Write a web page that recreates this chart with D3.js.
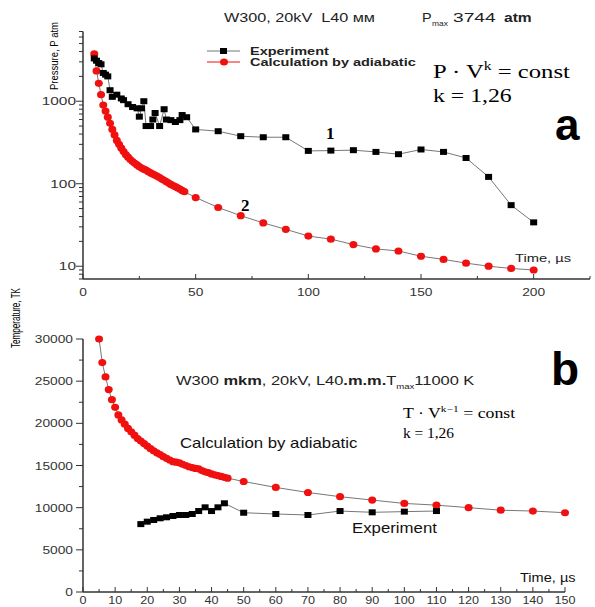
<!DOCTYPE html>
<html>
<head>
<meta charset="utf-8">
<script src="https://cdn.jsdelivr.net/npm/d3@7"></script>
<style>
  body { margin: 0; background: #fff; }
</style>
</head>
<body>
<svg id="chart" width="595" height="607" font-family="'Liberation Sans', Arial, sans-serif"></svg>
<script>

// Panel a - pressure
const expTimeA = [5, 6, 7, 8, 9, 10, 11, 12, 13, 15, 17, 18, 20, 22, 24, 25, 26, 27, 28, 30, 31, 32, 34, 36, 37, 39, 41, 43, 44, 46,
	50, 60, 70, 80, 90, 100, 110, 120, 130, 140, 150, 160, 170, 180, 190, 200];
const expPressure = [3300, 3100, 2900, 2800, 2200, 2100, 2000, 1360, 1130, 1200, 1080, 1030, 920, 850, 820, 650, 820, 1000, 500, 500, 600, 720, 500, 800, 600, 590, 560, 590, 680, 640,
	455, 433, 377, 366, 366, 250, 252, 255, 243, 228, 260, 243, 205, 121, 55, 34];
const calcTimeA = [5, 6, 7, 8, 9, 10, 11, 12, 13, 14, 15, 16, 17, 18, 19, 20, 21, 22, 23, 24, 25, 26, 27, 28, 29, 30,
	31, 32, 33, 34, 35, 36, 37, 38, 39, 40, 41, 42, 43, 44, 45, 50, 60, 70, 80, 90, 100, 110, 120, 130, 140, 150, 160, 170, 180, 190, 200];
const calcPressure = [3744, 2330, 1650, 1200, 900, 760, 640, 540, 455, 390, 335, 300, 270, 245, 225, 210, 196, 186, 177, 169, 161, 155, 150, 146, 140, 135,
	131, 127, 123, 119, 114, 110, 106, 102, 98, 95, 92, 89, 86, 83, 80, 68, 51.5, 41, 33.5, 28, 23.2, 21.3, 18.3, 16.2, 15.3, 13.2, 12.1, 10.9, 10.0, 9.4, 9.0];
const ticksA = [0, 50, 100, 150, 200];
const pressureTicks = [10, 100, 1000];

// Panel b - temperature
const expTimeB = [18, 20, 22, 24, 26, 28, 30, 32, 34, 36, 38, 40, 42, 44, 50, 60, 70, 80, 90, 100, 110];
const expTemp = [8050, 8340, 8540, 8740, 8860, 9010, 9130, 9130, 9250, 9600, 10040, 9600, 10040, 10520, 9400, 9250, 9130, 9600, 9450, 9530, 9600];
const calcTimeB = [5, 6, 7, 8, 9, 10, 11, 12, 13, 14, 15, 16, 17, 18, 19, 20, 21, 22, 23, 24, 25, 26, 27, 28, 29, 30,
	31, 32, 33, 34, 35, 36, 37, 38, 39, 40, 41, 42, 43, 44, 45, 50, 60, 70, 80, 90, 100, 110, 120, 130, 140, 150];
const calcTemp = [30000, 27200, 25500, 24000, 22800, 21900, 21000, 20400, 19900, 19400, 19000, 18600, 18200, 17900, 17600, 17300, 17000, 16750, 16500, 16300, 16050, 15850, 15650, 15450, 15400, 15300,
	15150, 15000, 14850, 14750, 14650, 14600, 14400, 14250, 14150, 14000, 13900, 13800, 13700, 13600, 13500, 13100, 12400, 11800, 11300, 10900, 10500, 10300, 10000, 9700, 9600, 9400];
const ticksB = d3.range(0, 151, 10);
const tempTicks = d3.range(0, 30001, 5000);

const svg = d3.select("#chart");
const axisCol = "#333";
const lineCol = "#777";
const red = "#f01010";
const serif = "'Liberation Serif', 'Times New Roman', serif";

// Scales
const xA = d3.scaleLinear().domain([0, 225]).range([83, 590]);
const yA = d3.scaleLog().domain([7, 7000]).range([279, 31.5]);
const xB = d3.scaleLinear().domain([0, 150]).range([83, 565]);
const yB = d3.scaleLinear().domain([0, 30000]).range([592, 339]);

// Text helper - the original figure is stretched sideways, so text gets a horizontal scale
function addText(parent, x, y, size, sx, str) {
	const t = parent.append("text")
		.attr("transform", `translate(${x},${y}) scale(${sx},1)`)
		.attr("font-size", size);
	if (str !== undefined) t.text(str);
	return t;
}

// Draw one series: thin gray line + markers
function drawSeries(xs, ys, x, y, kind) {
	const pts = xs.map((t, i) => [x(t), y(ys[i])]);
	svg.append("path")
		.attr("d", d3.line()(pts))
		.attr("fill", "none")
		.attr("stroke", lineCol)
		.attr("stroke-width", 1);
	const g = svg.append("g");
	if (kind === "square") {
		g.selectAll("rect").data(pts).join("rect")
			.attr("x", d => d[0] - 3.5)
			.attr("y", d => d[1] - 3)
			.attr("width", 7)
			.attr("height", 6)
			.attr("fill", "#000");
	} else {
		g.selectAll("ellipse").data(pts).join("ellipse")
			.attr("cx", d => d[0])
			.attr("cy", d => d[1])
			.attr("rx", 4)
			.attr("ry", 3.6)
			.attr("fill", red);
	}
}

// ---------- Panel a axes ----------
const gxA = svg.append("g").attr("transform", `translate(0,${yA.range()[0]})`);
gxA.append("line").attr("x1", xA.range()[0]).attr("x2", xA.range()[1]).attr("stroke", axisCol).attr("stroke-width", 1.5);
gxA.selectAll(".minor").data([25, 75, 125, 175, 225]).join("line")
	.attr("x1", d => xA(d)).attr("x2", d => xA(d)).attr("y1", 0).attr("y2", -3)
	.attr("stroke", axisCol);
gxA.selectAll(".major").data(ticksA).join("g")
	.each(function (d) {
		const g = d3.select(this);
		g.append("line").attr("x1", xA(d)).attr("x2", xA(d)).attr("y1", 0).attr("y2", -5).attr("stroke", axisCol);
		addText(g, xA(d), 17, 11, 1.25, d).attr("text-anchor", "middle").attr("fill", "#333");
	});

const gyA = svg.append("g").attr("transform", `translate(${xA.range()[0]},0)`);
gyA.append("line").attr("y1", yA.range()[0]).attr("y2", yA.range()[1]).attr("stroke", axisCol).attr("stroke-width", 1.5);
const minorA = [];
[1, 10, 100, 1000].forEach(dec => d3.range(2, 10).forEach(m => {
	const v = dec * m;
	if (v >= 7 && v <= 7000) minorA.push(v);
}));
gyA.selectAll(".minor").data(minorA).join("line")
	.attr("x1", 0).attr("x2", -4).attr("y1", d => yA(d)).attr("y2", d => yA(d)).attr("stroke", axisCol);
gyA.selectAll(".major").data(pressureTicks).join("g")
	.each(function (d) {
		const g = d3.select(this);
		g.append("line").attr("x1", 0).attr("x2", -7).attr("y1", yA(d)).attr("y2", yA(d)).attr("stroke", axisCol);
		addText(g, -7, yA(d) + 4, 11, 1.4, d).attr("text-anchor", "end").attr("fill", "#333");
	});

svg.append("text")
	.attr("transform", "translate(58,56) rotate(-90)")
	.attr("text-anchor", "middle")
	.attr("font-size", 11)
	.attr("textLength", 68)
	.attr("lengthAdjust", "spacingAndGlyphs")
	.text("Pressure, P atm");

// Panel a series
drawSeries(calcTimeA, calcPressure, xA, yA, "circle");
drawSeries(expTimeA, expPressure, xA, yA, "square");

// Panel a labels
addText(svg, 224, 22, 12, 1.35).attr("fill", "#222").html('W300, 20kV&#160;&#160;L40 мм');
addText(svg, 422, 22, 12, 1.2, "P").attr("fill", "#222");
addText(svg, 432, 26, 7, 1.2, "max").attr("fill", "#222");
addText(svg, 453, 22, 12, 1.6, "3744").attr("fill", "#222");
addText(svg, 504, 22, 12, 1.3, "atm").attr("fill", "#222").attr("font-weight", "bold");

// legend
const legend = [
	{ y: 51, label: "Experiment", kind: "square" },
	{ y: 62, label: "Calculation by adiabatic", kind: "circle" }
];
legend.forEach(l => {
	svg.append("line").attr("x1", 207).attr("x2", 240).attr("y1", l.y).attr("y2", l.y)
		.attr("stroke", l.kind === "square" ? lineCol : red).attr("stroke-width", 1);
	if (l.kind === "square") {
		svg.append("rect").attr("x", 220).attr("y", l.y - 3).attr("width", 7).attr("height", 6).attr("fill", "#000");
	} else {
		svg.append("ellipse").attr("cx", 224).attr("cy", l.y).attr("rx", 4).attr("ry", 3.6).attr("fill", red);
	}
	addText(svg, 250, l.y + 4, 10.5, 1.38, l.label).attr("font-weight", "bold").attr("fill", "#222");
});

const fA = addText(svg, 433, 78, 19, 1.3).attr("font-family", serif);
fA.append("tspan").text("P · V");
fA.append("tspan").attr("font-size", 12).attr("dy", -8).text("k");
fA.append("tspan").attr("dy", 8).text(" = const");
addText(svg, 433, 102, 19, 1.25, "k = 1,26").attr("font-family", serif);

svg.append("text").attr("x", 555).attr("y", 140).attr("font-size", 44).attr("font-weight", "bold").text("a");
svg.append("text").attr("x", 326).attr("y", 139).attr("font-size", 17).attr("font-weight", "bold")
	.attr("font-family", serif).text("1");
svg.append("text").attr("x", 241).attr("y", 211).attr("font-size", 17).attr("font-weight", "bold")
	.attr("font-family", serif).text("2");
addText(svg, 515, 262, 10.5, 1.4, "Time, µs").attr("fill", "#222");

// ---------- Panel b axes ----------
const gxB = svg.append("g").attr("transform", `translate(0,${yB.range()[0]})`);
gxB.append("line").attr("x1", xB.range()[0]).attr("x2", xB.range()[1]).attr("stroke", axisCol).attr("stroke-width", 1.5);
gxB.selectAll(".minor").data(d3.range(5, 150, 10)).join("line")
	.attr("x1", d => xB(d)).attr("x2", d => xB(d)).attr("y1", 0).attr("y2", -3).attr("stroke", axisCol);
gxB.selectAll(".major").data(ticksB).join("g")
	.each(function (d) {
		const g = d3.select(this);
		g.append("line").attr("x1", xB(d)).attr("x2", xB(d)).attr("y1", 0).attr("y2", -5).attr("stroke", axisCol);
		addText(g, xB(d), 12, 10.5, 1.2, d).attr("text-anchor", "middle").attr("fill", "#333");
	});

const gyB = svg.append("g").attr("transform", `translate(${xB.range()[0]},0)`);
gyB.append("line").attr("y1", yB.range()[0]).attr("y2", yB.range()[1]).attr("stroke", axisCol).attr("stroke-width", 1.5);
gyB.selectAll(".minor").data(d3.range(2500, 30000, 5000)).join("line")
	.attr("x1", 0).attr("x2", -4).attr("y1", d => yB(d)).attr("y2", d => yB(d)).attr("stroke", axisCol);
gyB.selectAll(".major").data(tempTicks).join("g")
	.each(function (d) {
		const g = d3.select(this);
		g.append("line").attr("x1", 0).attr("x2", -7).attr("y1", yB(d)).attr("y2", yB(d)).attr("stroke", axisCol);
		addText(g, -10, yB(d) + 4, 11, 1.25, d).attr("text-anchor", "end").attr("fill", "#333");
	});

svg.append("text")
	.attr("transform", "translate(20,318) rotate(-90)")
	.attr("text-anchor", "middle")
	.attr("font-size", 12)
	.attr("textLength", 60)
	.attr("lengthAdjust", "spacingAndGlyphs")
	.text("Temperature, TK");

// Panel b series
drawSeries(calcTimeB, calcTemp, xB, yB, "circle");
drawSeries(expTimeB, expTemp, xB, yB, "square");

// Panel b labels
const tB = addText(svg, 176, 385, 12, 1.37).attr("fill", "#222");
tB.append("tspan").text("W300 ");
tB.append("tspan").attr("font-weight", "bold").text("mkm");
tB.append("tspan").text(", 20kV, L40");
tB.append("tspan").attr("font-weight", "bold").text(".m.m.");
tB.append("tspan").text("T");
tB.append("tspan").attr("font-size", 7).attr("dy", 4).text("max");
tB.append("tspan").attr("dy", -4).text("11000 K");

const fB = addText(svg, 403, 418, 14, 1.27).attr("font-family", serif);
fB.append("tspan").text("T · V");
fB.append("tspan").attr("font-size", 9).attr("dy", -6).text("k−1");
fB.append("tspan").attr("dy", 6).text(" = const");
addText(svg, 403, 438, 14, 1.1, "k = 1,26").attr("font-family", serif);

svg.append("text").attr("x", 551).attr("y", 385).attr("font-size", 46).attr("font-weight", "bold").text("b");
addText(svg, 180, 448, 14, 1.2, "Calculation by adiabatic").attr("fill", "#111");
addText(svg, 352, 533, 14, 1.2, "Experiment").attr("fill", "#111");
addText(svg, 520, 582, 13, 1.12, "Time, µs").attr("fill", "#111");

</script>
</body>
</html>
